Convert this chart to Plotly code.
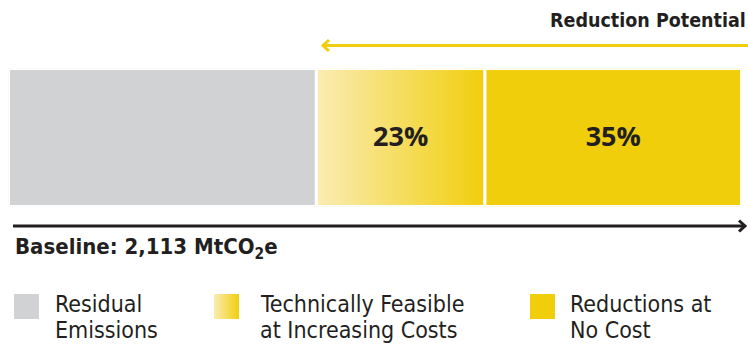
import plotly.graph_objects as go

# ---- data ----
categories = ["Residual<br>Emissions", "Technically Feasible<br>at Increasing Costs", "Reductions at<br>No Cost"]
shares = [42, 23, 35]
bar_labels = ["", "23%", "35%"]
title_text = "Reduction Potential"
baseline_text = "Baseline: 2,113 MtCO<sub>2</sub>e"

# ---- style ----
GREY = "#d1d2d4"
YELLOW = "#f1ce0c"
PALE = "#faecb4"
DARK = "#231f20"
W, H = 748, 345
FONT_N = "Liberation Sans Narrow, DejaVu Sans Condensed, sans-serif"
FONT_B = "Open Sans, Liberation Sans, sans-serif"

fig = go.Figure()

cum = [0]
for s in shares:
    cum.append(cum[-1] + s)

fills = [GREY, None, YELLOW]
for i, s in enumerate(shares):
    x0, x1 = cum[i], cum[i + 1]
    tr = dict(x=[x0, x1, x1, x0, x0], y=[0, 0, 1, 1, 0], fill="toself", mode="lines",
              line=dict(color="white", width=3), hoverinfo="skip", showlegend=False)
    if fills[i] is None:
        tr["fillgradient"] = dict(type="horizontal", colorscale=[[0, PALE], [1, YELLOW]])
    else:
        tr["fillcolor"] = fills[i]
    fig.add_trace(go.Scatter(**tr))

lab_idx = [i for i, t in enumerate(bar_labels) if t]
centers = [(cum[i] + cum[i + 1]) / 2 for i in lab_idx]
fig.add_trace(go.Scatter(x=centers, y=[0.49] * len(centers), mode="text",
                         text=[f"<b>{bar_labels[i]}</b>" for i in lab_idx],
                         textfont=dict(family=FONT_B, size=27, color=DARK), hoverinfo="skip", showlegend=False))

# ---- legend (custom, pixel space on second axes) ----
sw_x = [14, 214, 530]
tx_x = [53, 258, 568]
sw_w, sw_top, sw_bot = 25, 294, 319
for i, c in enumerate(categories):
    x0 = sw_x[i]
    tr = dict(x=[x0, x0 + sw_w, x0 + sw_w, x0, x0], y=[sw_top, sw_top, sw_bot, sw_bot, sw_top],
              fill="toself", mode="lines", line=dict(width=0), hoverinfo="skip", showlegend=False,
              xaxis="x2", yaxis="y2")
    if fills[i] is None:
        tr["fillgradient"] = dict(type="horizontal", colorscale=[[0, PALE], [1, YELLOW]])
    else:
        tr["fillcolor"] = fills[i]
    fig.add_trace(go.Scatter(**tr))

# ---- decorative arrows (pixel space) ----
def arrow(x_tail, x_tip, y, color):
    d = 1 if x_tip > x_tail else -1
    fig.add_trace(go.Scatter(x=[x_tail, x_tip - d * 1.5], y=[y, y], mode="lines",
                             line=dict(color=color, width=3), hoverinfo="skip", showlegend=False,
                             xaxis="x2", yaxis="y2"))
    fig.add_trace(go.Scatter(x=[x_tip - d * 6, x_tip, x_tip - d * 6], y=[y - 5.5, y, y + 5.5], mode="lines",
                             line=dict(color=color, width=3), hoverinfo="skip", showlegend=False,
                             xaxis="x2", yaxis="y2"))

arrow(748, 323, 45.5, YELLOW)
arrow(13, 745, 226, DARK)

annotations = []
line_y = [304, 330]
for i, c in enumerate(categories):
    for j, part in enumerate(c.split("<br>")):
        annotations.append(dict(x=tx_x[i] / W, y=1 - line_y[j] / H, xref="paper", yref="paper", xanchor="left",
                                yanchor="middle", align="left", showarrow=False, text=part,
                                font=dict(family=FONT_N, size=23, color=DARK)))

annotations.append(dict(x=748 / W, y=1 - 21 / H, xref="paper", yref="paper", xanchor="right", yanchor="middle",
                        showarrow=False, text=f"<b>{title_text}</b>", font=dict(family=FONT_N, size=19.5, color=DARK)))
annotations.append(dict(x=13 / W, y=1 - 248 / H, xref="paper", yref="paper", xanchor="left", yanchor="middle",
                        showarrow=False, text=f"<b>{baseline_text}</b>", font=dict(family=FONT_N, size=22, color=DARK)))

fig.update_layout(
    width=W, height=H, margin=dict(l=0, r=0, t=0, b=0),
    paper_bgcolor="white", plot_bgcolor="rgba(0,0,0,0)",
    xaxis=dict(domain=[8.5 / W, 741.5 / W], range=[0, 100], visible=False, fixedrange=True),
    yaxis=dict(domain=[1 - 206.5 / H, 1 - 68.5 / H], range=[0, 1], visible=False, fixedrange=True),
    xaxis2=dict(domain=[0, 1], range=[0, W], visible=False, anchor="y2", fixedrange=True),
    yaxis2=dict(domain=[0, 1], range=[H, 0], visible=False, anchor="x2", fixedrange=True),
    annotations=annotations,
)

fig.write_html("out.html")
